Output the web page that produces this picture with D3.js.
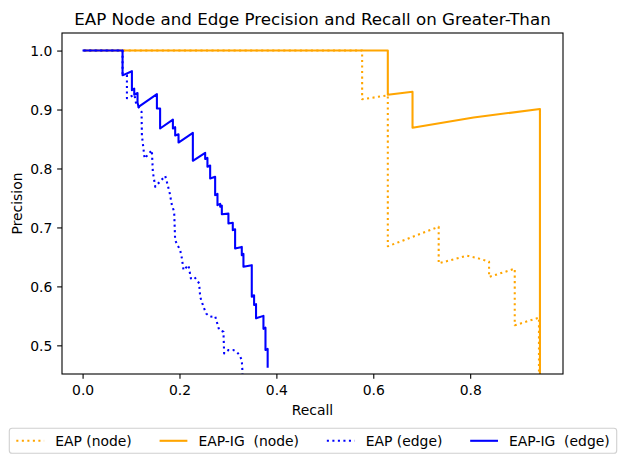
<!DOCTYPE html>
<html lang="en">
<head>
  <meta charset="UTF-8">
  <title>EAP Node and Edge Precision and Recall</title>
  <script src="https://d3js.org/d3.v7.min.js"></script>
  <style>
    body {
      margin: 0;
      padding: 0;
      background: #fff;
    }
    svg text {
      font-family: "DejaVu Sans", sans-serif;
      fill: #000;
    }
  </style>
</head>
<body>
  <div id="chart"></div>

  <script>
  // EAP (node), dotted orange
  const eapNodeRecall = [0.004, 0.577, 0.577, 0.630, 0.630, 0.735, 0.735, 0.793, 0.815, 0.839, 0.839, 0.892, 0.892, 0.942, 0.942];
  const eapNodePrecision = [1.0, 1.0, 0.9175, 0.924, 0.668, 0.701, 0.639, 0.652, 0.648, 0.642, 0.616, 0.630, 0.534, 0.547, 0.0];

  // EAP-IG (node), solid orange
  const igNodeRecall = [0.004, 0.630, 0.630, 0.681, 0.681, 0.807, 0.944, 0.944];
  const igNodePrecision = [1.0, 1.0, 0.925, 0.930, 0.869, 0.8864, 0.901, 0.0];

  // EAP (edge), dotted blue
  const eapEdgeRecall = [0.002, 0.0825, 0.0825, 0.0915, 0.0915, 0.107, 0.110, 0.1155, 0.1217, 0.1224, 0.128, 0.143, 0.145, 0.150,
    0.1705, 0.174, 0.1794, 0.1843, 0.189, 0.191, 0.196, 0.2014, 0.205, 0.2083, 0.2186, 0.2235, 0.2303, 0.236, 0.2406,
    0.2427, 0.2495, 0.255, 0.2633, 0.2736, 0.277, 0.2819, 0.2907, 0.2922, 0.301, 0.3113, 0.318, 0.3237, 0.3286, 0.330, 0.330];
  const eapEdgePrecision = [1.0, 1.0, 0.961, 0.958, 0.919, 0.925, 0.912, 0.9044, 0.896, 0.8564, 0.817, 0.831, 0.794, 0.769,
    0.7875, 0.777, 0.760, 0.738, 0.7265, 0.6785, 0.670, 0.6615, 0.6475, 0.6276, 0.636, 0.6136, 0.6163, 0.6107, 0.605,
    0.5824, 0.5654, 0.554, 0.5485, 0.5497, 0.540, 0.526, 0.523, 0.4864, 0.492, 0.492, 0.489, 0.4836, 0.475, 0.455, 0.40];

  // EAP-IG (edge), solid blue
  const igEdgeRecall = [0.002, 0.0825, 0.0825, 0.1018, 0.1018, 0.1066, 0.1066, 0.1134, 0.1134, 0.1155, 0.1534, 0.1534,
    0.160, 0.160, 0.1864, 0.1864, 0.1911, 0.1911, 0.198, 0.198, 0.2276, 0.2276, 0.253, 0.253, 0.2577, 0.2577, 0.2633,
    0.2633, 0.2736, 0.2736, 0.2784, 0.2784, 0.284, 0.284, 0.2874, 0.2874, 0.301, 0.301, 0.310, 0.310, 0.3148, 0.3148,
    0.3286, 0.3286, 0.332, 0.332, 0.3492, 0.3492, 0.354, 0.354, 0.358, 0.358, 0.3733, 0.3733, 0.3775, 0.3775, 0.382, 0.382];
  const igEdgePrecision = [1.0, 1.0, 0.958, 0.965, 0.9327, 0.9356, 0.925, 0.928, 0.912, 0.9044, 0.926, 0.9017,
    0.9017, 0.8678, 0.883, 0.8678, 0.870, 0.856, 0.858, 0.844, 0.8603, 0.813, 0.8264, 0.816, 0.818, 0.8028, 0.805,
    0.783, 0.786, 0.7547, 0.757, 0.7378, 0.740, 0.735, 0.737, 0.7225, 0.7234, 0.7068, 0.708, 0.6954, 0.697, 0.6644,
    0.667, 0.653, 0.655, 0.6332, 0.636, 0.5824, 0.585, 0.5683, 0.570, 0.5458, 0.550, 0.528, 0.530, 0.492, 0.494, 0.4637];

  const xTicks = [0.0, 0.2, 0.4, 0.6, 0.8];
  const yTicks = [0.5, 0.6, 0.7, 0.8, 0.9, 1.0];

  const series = [
    { label: "EAP (node)", color: "#ffa500", dotted: true, r: eapNodeRecall, p: eapNodePrecision },
    { label: "EAP-IG  (node)", color: "#ffa500", dotted: false, r: igNodeRecall, p: igNodePrecision },
    { label: "EAP (edge)", color: "#0000ff", dotted: true, r: eapEdgeRecall, p: eapEdgePrecision },
    { label: "EAP-IG  (edge)", color: "#0000ff", dotted: false, r: igEdgeRecall, p: igEdgePrecision }
  ];

  const width = 624, height = 463;
  const margin = { left: 62, right: 61, top: 33, bottom: 89 };
  const plotW = width - margin.left - margin.right;
  const plotH = height - margin.top - margin.bottom;

  const x = d3.scaleLinear().domain([-0.0425, 0.9916]).range([0, plotW]);
  const y = d3.scaleLinear().domain([0.4514, 1.0298]).range([plotH, 0]);

  const svg = d3.select("#chart").append("svg")
    .attr("width", width).attr("height", height);

  const g = svg.append("g").attr("transform", `translate(${margin.left},${margin.top})`);

  g.append("clipPath").attr("id", "plotClip")
    .append("rect").attr("width", plotW).attr("height", plotH);

  const line = d3.line().x(d => x(d[0])).y(d => y(d[1]));

  const lines = g.append("g").attr("clip-path", "url(#plotClip)");
  series.forEach(s => {
    const pts = s.r.map((r, i) => [r, s.p[i]]);
    lines.append("path")
      .attr("d", line(pts))
      .attr("fill", "none")
      .attr("stroke", s.color)
      .attr("stroke-width", 2.08)
      .attr("stroke-linejoin", "round")
      .attr("stroke-linecap", s.dotted ? "butt" : "square")
      .attr("stroke-dasharray", s.dotted ? "2.08,3.44" : null);
  });

  // axes
  const xAxis = g.append("g").attr("transform", `translate(0,${plotH})`)
    .call(d3.axisBottom(x).tickValues(xTicks).tickFormat(d3.format(".1f")).tickSize(4.86).tickPadding(4.86));
  const yAxis = g.append("g")
    .call(d3.axisLeft(y).tickValues(yTicks).tickFormat(d3.format(".1f")).tickSize(4.86).tickPadding(4.86));
  [xAxis, yAxis].forEach(a => {
    a.select(".domain").remove();
    a.selectAll(".tick line").attr("stroke", "#000").attr("stroke-width", 1.1);
    a.selectAll(".tick text").attr("font-size", "13.9px").attr("font-family", "DejaVu Sans");
  });
  xAxis.selectAll(".tick text").attr("dy", null).attr("y", 21);
  yAxis.selectAll(".tick text").attr("dy", "0.36em");

  g.append("rect").attr("width", plotW).attr("height", plotH)
    .attr("fill", "none").attr("stroke", "#000").attr("stroke-width", 1.1);

  // labels
  svg.append("text").attr("x", margin.left + plotW / 2).attr("y", 24.5)
    .attr("text-anchor", "middle").attr("font-size", "16.7px")
    .text("EAP Node and Edge Precision and Recall on Greater-Than");
  svg.append("text").attr("x", margin.left + plotW / 2).attr("y", 415)
    .attr("text-anchor", "middle").attr("font-size", "13.9px").text("Recall");
  svg.append("text").attr("transform", `translate(22,${margin.top + plotH / 2}) rotate(-90)`)
    .attr("text-anchor", "middle").attr("font-size", "13.9px").text("Precision");

  // legend
  const legend = svg.append("g");
  const box = legend.append("rect");
  const items = legend.append("g");
  let cx = 0;
  const handleLen = 27.8, handleGap = 11.1, colGap = 27.8;
  series.forEach((s, i) => {
    const it = items.append("g").attr("transform", `translate(${cx},0)`);
    it.append("line").attr("x1", 0).attr("x2", handleLen).attr("y1", 0).attr("y2", 0)
      .attr("stroke", s.color).attr("stroke-width", 2.08)
      .attr("stroke-dasharray", s.dotted ? "2.08,3.44" : null);
    const t = it.append("text").attr("x", handleLen + handleGap).attr("y", 0).attr("dy", "0.36em")
      .attr("font-size", "13.9px").style("white-space", "pre").text(s.label);
    cx += handleLen + handleGap + t.node().getComputedTextLength() + colGap;
  });
  const itemsW = cx - colGap;
  const boxPad = 5;
  const boxW = itemsW + 2 * boxPad + 4;
  const boxX = 313 - boxW / 2;
  items.attr("transform", `translate(${boxX + boxPad + 2},440.8)`);
  box.attr("x", boxX).attr("y", 428.3).attr("width", boxW).attr("height", 25)
    .attr("rx", 2.8).attr("fill", "#fff").attr("fill-opacity", 0.8)
    .attr("stroke", "#d0d0d0").attr("stroke-width", 1.1);
  </script>
</body>
</html>
